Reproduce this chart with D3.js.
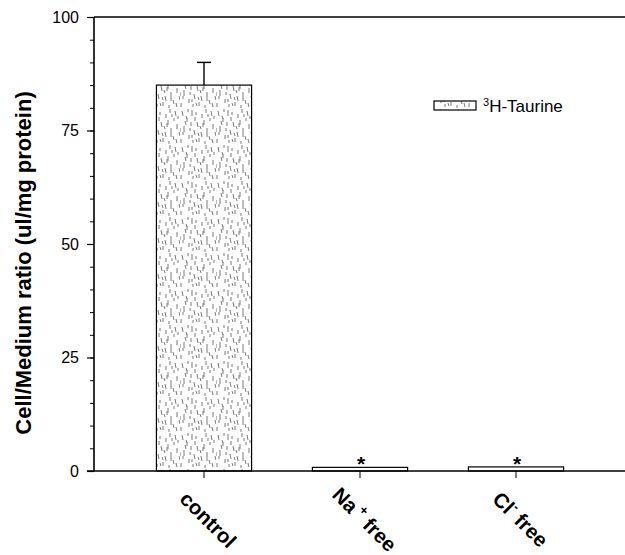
<!DOCTYPE html>
<html><head><meta charset="utf-8">
<script src="https://cdn.jsdelivr.net/npm/d3@7"></script>
<style>body{margin:0;background:#fff}svg{display:block}text{font-family:Arial,"Liberation Sans",sans-serif}</style>
</head><body><svg id="c" width="625" height="555"></svg>
<script>
const categories = ["control", "Na+ free", "Cl- free"];
const values = [85, 0.8, 0.9];
const errors = [5, 0, 0];
const significant = [false, true, true];
const yTicks = [0, 25, 50, 75, 100];
const yMinorTicks = d3.range(0, 101, 5);
const seriesName = "Taurine";

const svg = d3.select("#c");
const mLeft = 94, mRight = 625, mTop = 17, mBottom = 471;
const y = d3.scaleLinear().domain([0, 100]).range([mBottom, mTop]);
const x = d3.scaleBand().domain(categories).range([126, 594]).paddingInner(0.39).paddingOuter(0.195);

// stipple pattern
const defs = svg.append("defs");
const pat = defs.append("pattern").attr("id", "stip").attr("patternUnits", "userSpaceOnUse")
  .attr("width", 36).attr("height", 36);
pat.append("rect").attr("width", 36).attr("height", 36).attr("fill", "#fff");
const dashes = [[2,3,5],[7,10,4],[12,2,6],[17,14,5],[22,6,4],[27,20,6],[31,3,5],[4,18,6],[9,27,4],[14,22,5],
  [19,30,4],[24,12,5],[29,28,4],[33,16,5],[1,31,4],[6,8,3],[11,14,4],[16,4,3],[21,24,5],[26,1,4],[30,10,3],[35,24,4],[3,24,3],[13,32,3],[20,18,3],[8,1,3],[25,33,3],
  [5,13,4],[10,20,3],[15,9,4],[18,25,3],[23,15,4],[28,6,3],[32,31,4],[34,8,3],[0,20,4],[16,31,3],[27,26,3],[12,27,3]];
dashes.forEach(([dx, dy, l], i) => {
  pat.append("line").attr("x1", dx).attr("y1", dy).attr("x2", dx + (i % 3 === 0 ? 1 : 0)).attr("y2", dy + l)
    .attr("stroke", "#6a6a6a").attr("stroke-width", 0.9);
});

// frame top line
svg.append("line").attr("x1", mLeft).attr("x2", mRight).attr("y1", mTop).attr("y2", mTop)
  .attr("stroke", "#000").attr("stroke-width", 1.6);

// bars
const bars = svg.append("g");
categories.forEach((c, i) => {
  bars.append("rect").attr("x", x(c)).attr("width", x.bandwidth())
    .attr("y", y(values[i])).attr("height", y(0) - y(values[i]))
    .attr("fill", i === 0 ? "url(#stip)" : "#fff").attr("stroke", "#000").attr("stroke-width", 1.2);
  if (errors[i] > 0) {
    const cx = x(c) + x.bandwidth() / 2;
    bars.append("line").attr("x1", cx).attr("x2", cx).attr("y1", y(values[i])).attr("y2", y(values[i] + errors[i]))
      .attr("stroke", "#000").attr("stroke-width", 1.4);
    bars.append("line").attr("x1", cx - 7).attr("x2", cx + 7).attr("y1", y(values[i] + errors[i])).attr("y2", y(values[i] + errors[i]))
      .attr("stroke", "#000").attr("stroke-width", 1.4);
  }
  if (significant[i]) {
    bars.append("text").attr("x", x(c) + x.bandwidth() / 2 + 1).attr("y", y(values[i]) + 4)
      .attr("text-anchor", "middle").attr("font-size", 21).attr("font-weight", "bold").text("*");
  }
});

// y axis
const yAxis = svg.append("g").attr("transform", `translate(${mLeft},0)`);
yAxis.call(d3.axisLeft(y).tickValues(yMinorTicks).tickSize(4).tickFormat(""));
yAxis.call(g => g.select(".domain").remove());
const yMajor = svg.append("g").attr("transform", `translate(${mLeft},0)`)
  .call(d3.axisLeft(y).tickValues(yTicks).tickSize(7).tickPadding(8).tickFormat(d3.format("d")));
yMajor.select(".domain").attr("stroke-width", 1.6).attr("d", `M0,${mTop}V${mBottom}`);
yMajor.selectAll("text").attr("font-size", 16).attr("fill", "#000");
yMajor.selectAll("line").attr("stroke-width", 1.2);

// x axis
svg.append("line").attr("x1", mLeft - 7).attr("x2", mRight).attr("y1", mBottom).attr("y2", mBottom)
  .attr("stroke", "#000").attr("stroke-width", 1.6);
const xAxis = svg.append("g").attr("transform", `translate(0,${mBottom})`)
  .call(d3.axisBottom(x).tickSize(7).tickFormat(""));
xAxis.select(".domain").remove();

// category labels
const labG = svg.append("g");
categories.forEach((c, i) => {
  const cx = x(c) + x.bandwidth() / 2 + 3;
  const t = labG.append("text").attr("transform", `translate(${cx},${521}) rotate(45)`)
    .attr("text-anchor", "middle").attr("dominant-baseline", "middle")
    .attr("font-size", 20.5).attr("font-weight", "bold");
  if (i === 0) t.text("control");
  else if (i === 1) { t.append("tspan").text("Na"); t.append("tspan").attr("dy", -7).attr("font-size", 13).text(" +"); t.append("tspan").attr("dy", 7).text(" free"); }
  else { t.append("tspan").text("Cl"); t.append("tspan").attr("dy", -7).attr("font-size", 13).text("-"); t.append("tspan").attr("dy", 7).text(" free"); }
});

// y title
svg.append("text").attr("transform", `translate(31,${263}) rotate(-90)`)
  .attr("text-anchor", "middle").attr("font-size", 22).attr("font-weight", "bold")
  .text("Cell/Medium ratio (ul/mg protein)");

// legend
svg.append("rect").attr("x", 434).attr("y", 101).attr("width", 42).attr("height", 9)
  .attr("fill", "url(#stip)").attr("stroke", "#000").attr("stroke-width", 1.2);
const lt = svg.append("text").attr("x", 483).attr("y", 112).attr("font-size", 17);
lt.append("tspan").attr("font-size", 11).attr("dy", -6).text("3");
lt.append("tspan").attr("dy", 6).text("H-" + seriesName);
</script></body></html>
